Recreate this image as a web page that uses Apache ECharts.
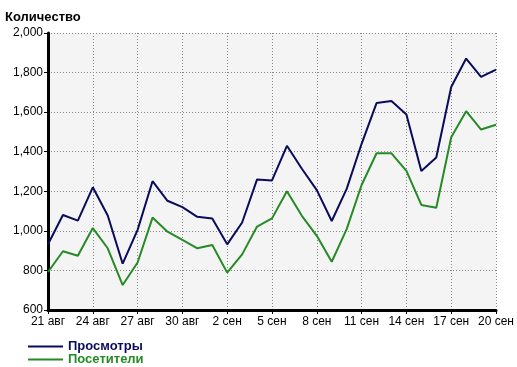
<!DOCTYPE html>
<html><head><meta charset="utf-8">
<script src="https://cdn.jsdelivr.net/npm/echarts@6/dist/echarts.min.js"></script>
<style>html,body{margin:0;padding:0;background:#fff}#c{width:517px;height:367px}</style>
</head><body><div id="c"></div>
<script>
const categories = ['21 авг','22 авг','23 авг','24 авг','25 авг','26 авг','27 авг','28 авг','29 авг','30 авг','31 авг',
  '1 сен','2 сен','3 сен','4 сен','5 сен','6 сен','7 сен','8 сен','9 сен','10 сен','11 сен','12 сен','13 сен','14 сен',
  '15 сен','16 сен','17 сен','18 сен','19 сен','20 сен'];
const views = [932,1080,1052,1220,1078,834,1005,1251,1152,1120,1071,1063,932,1042,1260,1255,1430,1314,1206,1050,1212,1440,1646,1656,1588,1303,1371,1727,1871,1778,1815];
const visitors = [792,897,874,1014,912,726,840,1067,996,954,912,929,789,881,1022,1063,1200,1076,975,844,1009,1232,1392,1392,1303,1131,1117,1473,1605,1512,1536];
const seriesNames = ['Просмотры','Посетители'];
const colors = ['#0b0b5c','#268a26'];
const chart = echarts.init(document.getElementById('c'));
const font = 'Liberation Sans, Arial, sans-serif';
const legendBase = {orient:'vertical',left:28,itemGap:0,itemWidth:35,itemHeight:2,icon:'rect',padding:0,
  textStyle:{fontSize:13,fontWeight:'bold',fontFamily:font}};
chart.setOption({
  animation:false,
  textStyle:{fontFamily:font},
  title:{text:'Количество',left:5,top:11,padding:0,textStyle:{fontSize:13,fontWeight:'bold',color:'#000',fontFamily:font}},
  grid:{left:48,right:18,top:33,bottom:57,show:true,backgroundColor:'#f4f4f4',borderWidth:0},
  legend:[
    Object.assign({},legendBase,{top:340,data:[{name:seriesNames[0],textStyle:{color:colors[0]}}]}),
    Object.assign({},legendBase,{top:353,data:[{name:seriesNames[1],textStyle:{color:colors[1]}}]})
  ],
  xAxis:{type:'category',data:categories,boundaryGap:false,
    axisLine:{lineStyle:{color:'#000',width:3}},
    axisTick:{interval:2,length:4,lineStyle:{color:'#000',width:1}},
    axisLabel:{interval:2,color:'#000',fontSize:12,margin:6,fontFamily:font},
    splitLine:{show:true,interval:2,lineStyle:{color:'#888',type:[1,2],width:1}}},
  yAxis:{type:'value',min:600,max:2000,interval:200,
    axisLine:{show:true,lineStyle:{color:'#000',width:3}},
    axisTick:{show:true,length:4,lineStyle:{color:'#000'}},
    axisLabel:{color:'#000',fontSize:12,margin:5,fontFamily:font,formatter:v=>v.toLocaleString('en-US')},
    splitLine:{show:true,lineStyle:{color:'#888',type:[1,2],width:1}}},
  series:[
    {name:seriesNames[0],type:'line',data:views,symbol:'none',lineStyle:{color:colors[0],width:2},itemStyle:{color:colors[0]}},
    {name:seriesNames[1],type:'line',data:visitors,symbol:'none',lineStyle:{color:colors[1],width:2},itemStyle:{color:colors[1]}}
  ]
});
</script></body></html>
